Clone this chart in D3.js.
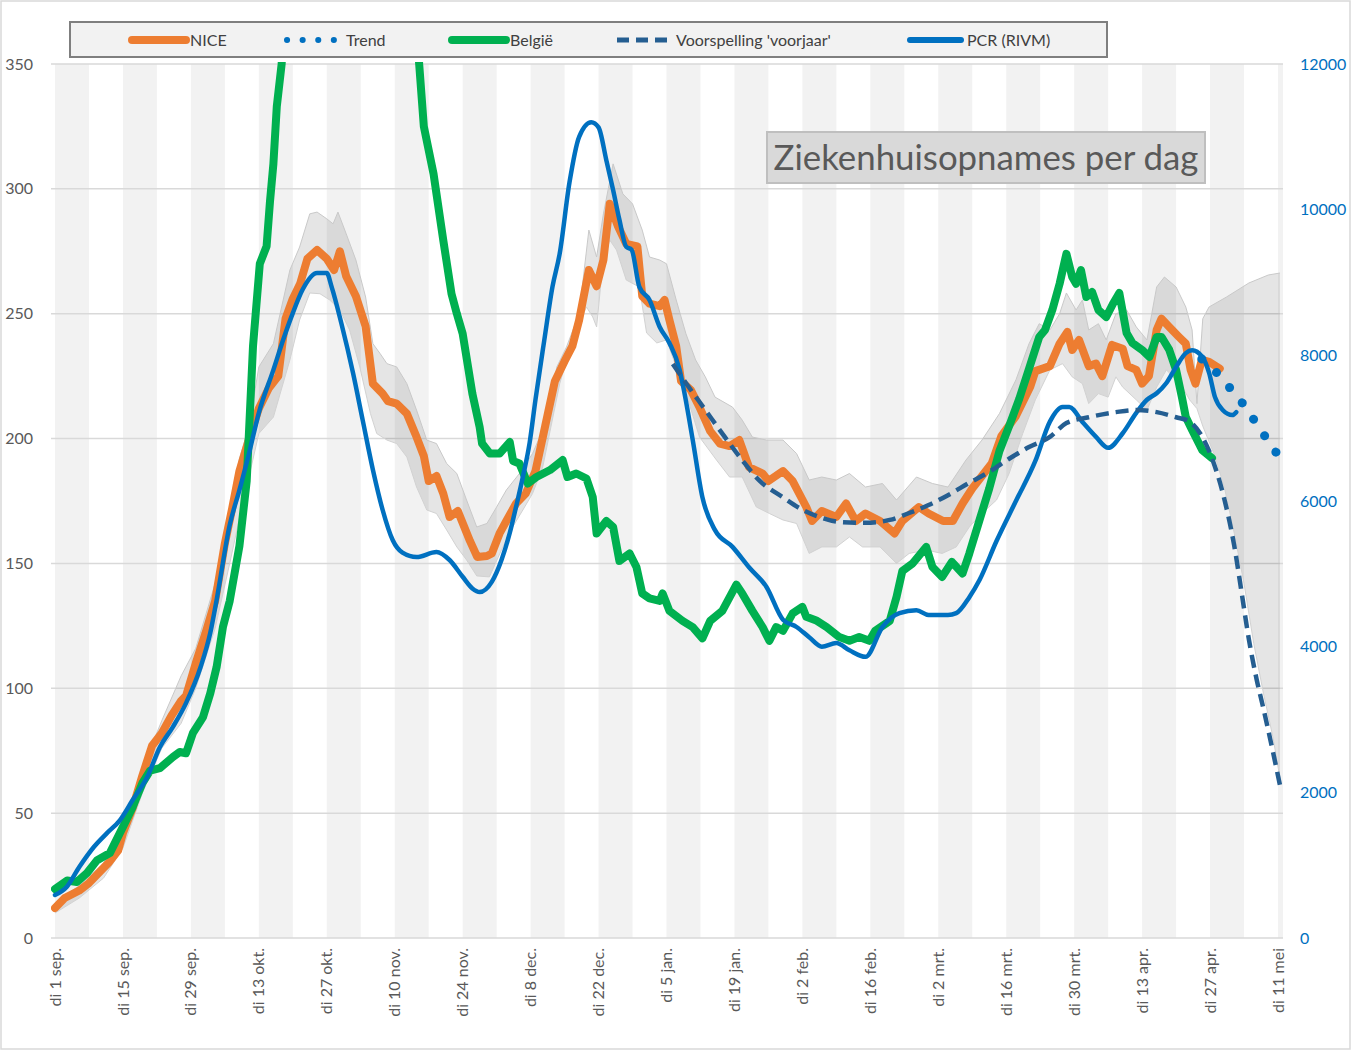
<!DOCTYPE html>
<html><head><meta charset="utf-8">
<script src="https://cdn.jsdelivr.net/npm/d3@7"></script>
<style>body{margin:0;background:#fff}svg{display:block;font-family:Lato,"Open Sans",sans-serif}</style>
</head><body><svg id="c" width="1352" height="1052"></svg>
<script>
// ---- data (day offsets from di 1 sep. 2020) ----
const tickDays = [0,14,28,42,56,70,84,98,112,126,140,154,168,182,196,210,224,238,252];
const tickLabels = ["di 1 sep.","di 15 sep.","di 29 sep.","di 13 okt.","di 27 okt.","di 10 nov.","di 24 nov.","di 8 dec.","di 22 dec.","di 5 jan.","di 19 jan.","di 2 feb.","di 16 feb.","di 2 mrt.","di 16 mrt.","di 30 mrt.","di 13 apr.","di 27 apr.","di 11 mei"];
const leftTicks = [0,50,100,150,200,250,300,350];
const rightTicks = [0,2000,4000,6000,8000,10000,12000];
const legendNames = ["NICE","Trend","België","Voorspelling 'voorjaar'","PCR (RIVM)"];

const nice = [[0,12],[2,16],[5,19],[7,22],[9,26],[11,30],[13,35],[14,42],[16,52],[18,65],[20,77],[22,82],[24,89],[26,95],[27,97],[29,110],[31,122],[33,135],[35,158],[36.5,172],[38,187],[40,200],[42,212],[44,220],[46,225],[47.5,248],[49,256],[50.5,262],[52,272],[54,275.5],[56,272],[57.5,267.5],[58.7,275],[60,265],[62,257],[64,245],[65.5,222],[67.5,218],[68.6,215],[70.4,214],[72.5,210],[74.5,200.6],[76,193],[77,183],[78.6,185],[80,178],[81.3,168.6],[83,171],[85.5,159],[87,152.6],[89,153],[90,154],[91.6,162],[93,167],[95,174],[97,178],[99,187],[101,205],[103,223],[105,231],[106.6,237],[108,247.5],[110,267.5],[111.6,261],[113,271.5],[114.3,294],[116,285],[117.7,278],[120,277],[121,257],[122.5,254],[124.6,253],[125.6,255.5],[126.6,247.5],[128,237],[129,223],[131,219.5],[132.8,212.6],[135,203],[137,198],[139,197],[141,199.4],[143,188.6],[145.8,186],[147,183],[150,187],[152,183],[154.8,172.6],[156,167],[158,171],[161,168.6],[163,174],[165,167],[167,170],[170,167],[173,162],[174.6,167],[178,172.6],[180,170],[183,167],[185,167],[187,174],[189,180],[191,185],[193,190],[195,201],[198,209],[201,221],[202,227],[205,229],[207,238],[208.6,242.7],[209.6,235.5],[211,239.5],[213,229],[214.5,230],[215.8,225],[217.8,237.5],[220,236],[221,229],[222.8,227.5],[224,222],[225.4,225],[227,243.5],[228,248],[229.6,244.7],[231.6,240.7],[233,238],[234,227.5],[235,222],[236.3,231.5],[237.8,230.7],[240,228]];

const bandUpper = [[0,14],[5,21],[10,30],[14,45],[18,68],[22,87],[26,105],[29,116],[33,142],[36,172],[38,192],[40,205],[42,228.7],[45,238],[48.4,267.5],[50.4,276.7],[52.5,290],[54,290.7],[56,288],[57.3,286],[58.3,290.7],[60,282],[62,271.5],[64,256.7],[65.5,238],[67,234],[68.4,230],[70.4,228.7],[72.5,222],[74.5,211.4],[76.6,199.4],[78.6,198],[80.7,190],[82.8,186],[84.8,175.4],[86.9,164.6],[89,166],[91,172.6],[93,179.4],[95.7,186],[98.4,194],[101.3,207],[103.4,228.7],[105.4,236.7],[108,250],[110,283.5],[111.6,272.7],[113,290],[115,310],[117,298],[119,294],[121,283.5],[122.5,272.7],[124.6,271.5],[126,270],[128,255.5],[130,242],[132,231.5],[134,224.7],[136,216.6],[139.6,212.6],[141.6,207.4],[143.7,200.6],[146.6,199.4],[150,199.4],[152.8,194],[155.4,183.4],[158,184.6],[161,183.4],[163.7,186],[167,180.6],[170.5,182],[173.4,175.4],[177.5,184.6],[180.8,182],[184,180.6],[187.7,191.4],[191,199.4],[194.6,210],[198,223.5],[200.7,238],[202.8,246],[205,243.5],[207,250],[208.4,258.3],[210.4,251.5],[211.7,255.5],[213,243.5],[215,246],[216.6,239.5],[218.6,250],[220.8,251.5],[222.8,244.7],[225,239.5],[227,260.7],[228.6,264.7],[231,260.7],[233,252.7],[234.3,243.5],[235.3,214],[236.5,248],[237.8,252.7],[241.4,256.7],[246,262.3],[250,265.5],[252.4,266.3]];

const bandLower = [[0,10],[5,16],[10,24],[14,36],[18,58],[22,76],[26,86],[29,100],[33,124],[36,150],[38,168],[40,185],[42,202],[45,208.6],[48.4,231.5],[50.4,247.5],[52.5,258.3],[54.6,258],[56.6,255.5],[58.7,251.5],[60.7,243.5],[62.8,228.7],[65,210],[66.3,202],[68.4,199.4],[70.4,198],[72.5,192.6],[74.5,180.6],[76.6,171.4],[78.6,170],[80.7,163.4],[82.8,156.6],[84.8,151.4],[86.9,145],[89.5,144.6],[92,155.4],[94.3,164.6],[96.4,171.4],[98.4,178],[100.5,188.6],[104,222],[106.6,239.5],[109.5,252.7],[110.8,248.7],[111.6,244.7],[112.8,268.7],[114.3,279.5],[115.7,275.5],[117.7,263.5],[120.4,260.7],[121.9,242.3],[124,238.3],[126,239.5],[128,228.7],[130,218.3],[132.8,200.6],[136.3,191.4],[139,184.6],[141.6,184.6],[144.5,172.6],[147.2,170],[150,167.4],[152.8,166],[155.4,154],[158,156.6],[161,156.6],[163.7,160.6],[166.4,156.6],[170,156.6],[173.4,150],[176,154],[179.5,155.4],[182.8,154],[185.7,156.6],[188.4,164.6],[191,170],[194,175.4],[196.6,186],[199.4,202],[202,215.5],[205,227.5],[207.6,230],[209.6,224.7],[211.7,222],[213,214],[215,218],[217,216.6],[218.6,224.7],[220,220.6],[222.8,215.5],[225,211.4],[227,220.6],[229,227.5],[231,223.5],[232.3,220.6],[233.8,215.5],[235.3,212],[236.5,205],[239,193],[241,180],[243,162],[245,142],[247,118],[249,98],[251,80],[252.4,64]];

const belgie = [[0,19.6],[2.5,23],[4.5,22.4],[6.6,26],[8.6,31],[11.3,34],[14,44.5],[16,52.5],[18,62],[19.6,67],[21.6,68],[24.3,72.5],[25.7,74.5],[27,74],[28.4,82],[30.5,88.5],[32,98],[33.3,108.5],[34.6,124.5],[36,135],[38,157],[39.5,183],[40.8,237],[42.2,270],[43.6,277],[44.3,295],[45,310],[45.7,333],[46.7,350],[48,400],[52,500],[57,560],[62,550],[67,490],[72,410],[75,351],[76,325],[78,306],[80,279.5],[81.7,258],[82.8,250],[84,242],[86,218],[87.5,204.6],[88,198],[89.6,194],[91.6,194],[93.7,198.6],[94.4,191],[95.7,190],[97.4,182],[99.2,184.6],[102,187.4],[104.6,191.4],[105.6,184.6],[107.4,186],[109.5,184],[110.8,176.6],[111.6,162],[113.6,167],[115,164.6],[116.3,151],[118.4,154],[119.8,148.6],[121,138],[122.5,136],[124.6,135],[125.2,138],[126.6,131],[129.3,127],[131.4,124.5],[133.4,120],[135,127],[137.5,131],[140.4,141.5],[141.6,138],[143.7,131],[145.8,124.5],[147.2,119],[148.6,124.5],[150,123],[152,130],[154,132.6],[154.8,128.6],[157,127],[159,124.5],[161.6,120.5],[163.7,119],[165.7,120.5],[167.8,119],[169,123],[172,127],[173.4,136.6],[174.6,147],[176.7,150],[179.5,156.6],[180.8,148.6],[182.8,144.6],[184.8,150.6],[187,146],[188.4,154],[190.5,167.4],[192.5,180],[194.6,195],[196.6,205],[198.7,216],[200.7,228],[202.8,240.7],[204,243.5],[205.5,251.5],[207,262],[208.4,274],[209.6,264.7],[210.4,262],[211.4,267.5],[212.5,256.7],[213.7,258.7],[215,251.5],[216.6,248.7],[218,254],[219.3,258.3],[220.8,242.3],[222,238.3],[224,235.5],[225.5,232.7],[227,240.7],[228,240.7],[229.6,235.5],[231,227.5],[232.2,216.6],[233,208.6],[234.3,203.4],[236.4,195.4],[238.4,192.2]];

const pcr = [[0,590],[2.4,700],[5,975],[8,1250],[10.7,1440],[13.4,1620],[16,1895],[19,2210],[21.6,2620],[24.3,2900],[27,3225],[30,3720],[32,4190],[33.3,4640],[36,5670],[38,6150],[40,6660],[42,7210],[45,7800],[47,8210],[49,8580],[51,8900],[54,9130],[56,9130],[57,8940],[59,8440],[61.4,7760],[63.4,7110],[65.5,6430],[67.5,5880],[69.6,5460],[71.6,5290],[74.5,5230],[78.6,5300],[81.3,5190],[84,4960],[86,4800],[87.5,4750],[90,4890],[92,5190],[93.7,5560],[95,5920],[96.4,6330],[97.8,6800],[99,7390],[100.8,8200],[102.5,8940],[104,9400],[106,10370],[108,11000],[110.5,11200],[112,11130],[113.6,10680],[115,10270],[116.3,9860],[117.7,9490],[118.8,9450],[120.4,8940],[122.5,8760],[124.6,8390],[126.6,8170],[128.7,7800],[129.5,7550],[131.4,6840],[133.4,6050],[136,5600],[139.6,5370],[143,5090],[146.6,4820],[150,4370],[152.8,4270],[155.4,4130],[158,4000],[161,4050],[163.7,3950],[167,3860],[170.5,4270],[174,4460],[177.5,4500],[180,4435],[184,4435],[185.7,4460],[188.4,4680],[190.5,4915],[194,5450],[198,6000],[202,6550],[205,7090],[207.6,7290],[209,7290],[211.7,7085],[214.5,6880],[217,6730],[220,6930],[222.8,7210],[225,7390],[227,7480],[229,7620],[231,7840],[233,8030],[234.3,8070],[236.4,7980],[237.8,7760],[239,7430],[240.6,7250],[242.6,7180],[243.4,7220]];

const voorspelling = [[127.3,7880],[130,7620],[134,7250],[138,6880],[141.6,6560],[145,6290],[150,6050],[154,5880],[158,5770],[162,5710],[167,5700],[172,5740],[176,5835],[180,5945],[184,6080],[188.4,6250],[192.5,6400],[196.6,6580],[200.7,6740],[205,6880],[208.4,7070],[213,7150],[218.6,7220],[222.8,7250],[227,7220],[231,7150],[233.8,7090],[236.4,6880],[238.6,6550],[241,6010],[243,5380],[244.6,4700],[246,4100],[247.6,3550],[249,3150],[250.4,2730],[252.4,2100]];

const trend = [[236.3,7950],[239.4,7760],[242,7560],[244.6,7350],[247,7120],[249.4,6880],[252,6630]];

// ---- drawing ----
const svg = d3.select("#c");
const X0 = 51, X1 = 1283, YT = 64, YB = 938;
const x = d3.scaleLinear().domain([0,252]).range([55,1278]);
const yL = d3.scaleLinear().domain([0,350]).range([YB,YT]);
const yR = d3.scaleLinear().domain([0,12000]).range([YB,YT]);
const C = {orange:"#ED7D31", green:"#00B050", blue:"#0070C0", dash:"#255E91", text:"#595959"};

svg.append("rect").attr("x",1).attr("y",1).attr("width",1349).attr("height",1048)
  .attr("fill","#fff").attr("stroke","#d9d9d9").attr("stroke-width",1.5);

const defs = svg.append("defs");
defs.append("clipPath").attr("id","plot").append("rect").attr("x",X0).attr("y",YT-2).attr("width",X1-X0).attr("height",YB-YT+4);
defs.append("clipPath").attr("id","plotx").append("rect").attr("x",X0).attr("y",YT).attr("width",X1-X0).attr("height",YB-YT);

// alternating week shading
const weeks = d3.range(0, 253, 14);
svg.append("g").attr("clip-path","url(#plotx)").selectAll("rect").data(weeks).join("rect")
  .attr("x",d=>x(d)).attr("width",d=>x(d+7)-x(d)).attr("y",YT).attr("height",YB-YT).attr("fill","#f2f2f2");

// gridlines
svg.append("g").selectAll("line").data(leftTicks).join("line")
  .attr("x1",X0).attr("x2",X1).attr("y1",d=>yL(d)).attr("y2",d=>yL(d))
  .attr("stroke","#d9d9d9").attr("stroke-width",1.5);

// band
const lower = d3.scaleLinear().domain(bandLower.map(d=>d[0])).range(bandLower.map(d=>d[1]));
const bandPts = bandUpper.map(d=>[d[0], d[1]]);
const bandArea = d3.area().x(d=>x(d[0])).y1(d=>yL(d[1])).y0(d=>yL(lower(d[0])));
const gPlot = svg.append("g").attr("clip-path","url(#plot)");
// combine both edges as a polygon so each keeps its own sampling
const poly = bandUpper.map(d=>[x(d[0]),yL(d[1])]).concat(bandLower.slice().reverse().map(d=>[x(d[0]),yL(d[1])]));
gPlot.append("path").attr("d","M"+poly.map(p=>p.join(",")).join("L")+"Z")
  .attr("fill","rgba(0,0,0,0.10)");
const lineL = d3.line().x(d=>x(d[0])).y(d=>yL(d[1]));
const lineR = d3.line().x(d=>x(d[0])).y(d=>yR(d[1]));
gPlot.append("path").attr("d",lineL(bandUpper)).attr("fill","none").attr("stroke","#c9c9c9").attr("stroke-width",1);
gPlot.append("path").attr("d",lineL(bandLower)).attr("fill","none").attr("stroke","#d2d2d2").attr("stroke-width",1);

// series
gPlot.append("path").attr("d",lineL(nice)).attr("fill","none").attr("stroke",C.orange)
  .attr("stroke-width",8).attr("stroke-linejoin","round").attr("stroke-linecap","round");
gPlot.append("path").attr("d",lineL(belgie)).attr("fill","none").attr("stroke",C.green)
  .attr("stroke-width",8).attr("stroke-linejoin","round").attr("stroke-linecap","round");
gPlot.append("path").attr("d",lineR.curve(d3.curveMonotoneX)(pcr)).attr("fill","none").attr("stroke",C.blue)
  .attr("stroke-width",4.5).attr("stroke-linejoin","round").attr("stroke-linecap","round");
gPlot.append("path").attr("d",lineR.curve(d3.curveMonotoneX)(voorspelling)).attr("fill","none").attr("stroke",C.dash)
  .attr("stroke-width",4.5).attr("stroke-dasharray","13 7");
gPlot.append("path").attr("d",lineR.curve(d3.curveLinear)(trend)).attr("fill","none").attr("stroke",C.blue)
  .attr("stroke-width",9).attr("stroke-linecap","round").attr("stroke-dasharray","0.1 19.8");

// left axis labels
svg.append("g").selectAll("text").data(leftTicks).join("text")
  .attr("x",33).attr("y",d=>yL(d)).attr("dy","0.35em").attr("text-anchor","end")
  .attr("font-size",16).attr("fill",C.text).text(d=>d);
// right axis labels
svg.append("g").selectAll("text").data(rightTicks).join("text")
  .attr("x",1300).attr("y",d=>yR(d)).attr("dy","0.35em").attr("text-anchor","start")
  .attr("font-size",16).attr("fill",C.blue).text(d=>d);
// x labels
svg.append("g").selectAll("text").data(tickDays).join("text")
  .attr("transform",(d)=>`translate(${x(d)},948) rotate(-90)`).attr("dy","0.35em")
  .attr("text-anchor","end").attr("font-size",16).attr("fill",C.text)
  .text((d,i)=>tickLabels[i]);

// legend
svg.append("rect").attr("x",70).attr("y",22).attr("width",1037).attr("height",35)
  .attr("fill","#f2f2f2").attr("stroke","#7f7f7f").attr("stroke-width",2);
const lg = svg.append("g");
const ly = 40;
const items = [
  {x1:132,x2:186,tx:190,c:C.orange,w:8,dash:null,cap:"round"},
  {x1:287,x2:334,tx:346,c:C.blue,w:6,dash:"0.1 15.5",cap:"round"},
  {x1:452,x2:506,tx:510,c:C.green,w:8,dash:null,cap:"round"},
  {x1:617,x2:670,tx:676,c:C.dash,w:5,dash:"12 7",cap:"butt"},
  {x1:910,x2:961,tx:967,c:C.blue,w:6,dash:null,cap:"round"}
];
items.forEach((it,i)=>{
  const l = lg.append("line").attr("x1",it.x1).attr("x2",it.x2).attr("y1",ly).attr("y2",ly)
    .attr("stroke",it.c).attr("stroke-width",it.w).attr("stroke-linecap",it.cap);
  if(it.dash) l.attr("stroke-dasharray",it.dash);
  lg.append("text").attr("x",it.tx).attr("y",ly).attr("dy","0.35em").attr("font-size",16)
    .attr("fill","#404040").text(legendNames[i]);
});

// title box
svg.append("rect").attr("x",767).attr("y",132).attr("width",438).attr("height",51)
  .attr("fill","#d9d9d9").attr("stroke","#bfbfbf").attr("stroke-width",2);
const t = svg.append("text").attr("x",986).attr("y",158).attr("dy","0.35em").attr("text-anchor","middle")
  .attr("font-size",34).attr("fill",C.text).text("Ziekenhuisopnames per dag");
const tw = t.node().getComputedTextLength();
t.attr("font-size", 34*425/tw);
</script></body></html>
